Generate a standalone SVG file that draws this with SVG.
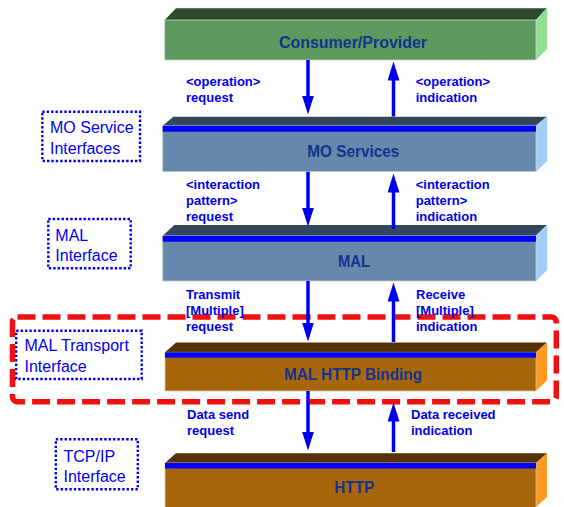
<svg xmlns="http://www.w3.org/2000/svg" width="564" height="507" viewBox="0 0 564 507">
<style>
.title{font-family:"Liberation Sans",Arial,sans-serif;font-weight:bold;font-size:16px;fill:#13338f;text-anchor:middle}
.lbl{font-family:"Liberation Sans",Arial,sans-serif;font-weight:bold;font-size:13px;fill:#0000f0}
.ifc{font-family:"Liberation Sans",Arial,sans-serif;font-size:16px;fill:#0000ee}
.ifbox{fill:none;stroke:#0000ee;stroke-width:2.4;stroke-dasharray:2.4 2}
.arrow{stroke:#0000f0;stroke-width:3.5;fill:none;marker-end:url(#ah)}
.stripe{fill:#0000ff}
.gfront{fill:#5c995c;stroke:#cfd8cf;stroke-width:0.8}
.gtop{fill:#2d4a2d}
.gside{fill:#8ee08e;stroke:#b8d8b8;stroke-width:0.6}
.bfront{fill:#6688aa;stroke:#c8d0d8;stroke-width:0.8}
.btop{fill:#33475a}
.bside{fill:#a0ccf8;stroke:#c0d8f0;stroke-width:0.6}
.ofront{fill:#a8660a;stroke:#d8c8b0;stroke-width:0.8}
.otop{fill:#553005}
.oside{fill:#ff9a1f}
</style>
<defs>
<marker id="ah" markerUnits="userSpaceOnUse" markerWidth="19" markerHeight="12" viewBox="0 0 19 12" refX="0.5" refY="6" orient="auto">
<path d="M0,0 L19,6 L0,12 z" fill="#0000f0"/>
</marker>
</defs>
<rect width="564" height="507" fill="#ffffff"/>

<g id="consumer-provider">
<polygon class="gtop" points="164.7,20 176,8.3 547,8.3 536,20"/>
<polygon class="gside" points="536,20 547,8.3 547,48.5 536,60"/>
<rect class="gfront" x="164.7" y="20" width="371.3" height="40"/>
<text class="title" x="353" y="47.5" textLength="148" lengthAdjust="spacingAndGlyphs">Consumer/Provider</text>
</g>

<g id="mo-services">
<polygon class="btop" points="162.7,125.7 173.3,116.7 547,116.7 536,125.7"/>
<polygon class="bside" points="536,125.7 547,116.7 547,161 536,171.7"/>
<rect class="bfront" x="162.7" y="125.7" width="373.3" height="46"/>
<rect class="stripe" x="162.7" y="125.7" width="373.3" height="6"/>
<text class="title" x="353.3" y="157.3" textLength="92" lengthAdjust="spacingAndGlyphs">MO Services</text>
</g>

<g id="mal">
<polygon class="btop" points="162.7,235.7 174.3,225 547,225 536,235.7"/>
<polygon class="bside" points="536,235.7 547,225 547,270 536,281"/>
<rect class="bfront" x="162.7" y="235.7" width="373.3" height="45.3"/>
<rect class="stripe" x="162.7" y="235.7" width="373.3" height="6"/>
<text class="title" x="354" y="267.3" textLength="32" lengthAdjust="spacingAndGlyphs">MAL</text>
</g>

<g id="mal-http-binding">
<polygon class="otop" points="165,352.3 176,342.5 547,342.5 536,352.3"/>
<polygon class="oside" points="536,352.3 547,342.5 547,380.5 536,391"/>
<rect class="ofront" x="165" y="352.3" width="371" height="38.7"/>
<rect class="stripe" x="165" y="352.3" width="371" height="5.4"/>
<text class="title" x="353" y="380" textLength="138" lengthAdjust="spacingAndGlyphs">MAL HTTP Binding</text>
</g>

<g id="http">
<polygon class="otop" points="165,463 176,453.3 547,453.3 536,463"/>
<polygon class="oside" points="536,463 547,453.3 547,497 536,507"/>
<rect class="ofront" x="165" y="463" width="371" height="50"/>
<rect class="stripe" x="165" y="463" width="371" height="5.5"/>
<text class="title" x="354.3" y="493.3" textLength="40" lengthAdjust="spacingAndGlyphs">HTTP</text>
</g>

<g id="mo-service-interfaces">
<rect class="ifbox" x="42.3" y="111.7" width="97.7" height="49.3"/>
<text class="ifc" x="50" y="133.4">MO Service</text>
<text class="ifc" x="50" y="154">Interfaces</text>
</g>

<g id="mal-interface">
<rect class="ifbox" x="48.3" y="219" width="82.4" height="49.3"/>
<text class="ifc" x="55.3" y="240.7">MAL</text>
<text class="ifc" x="55.3" y="261.4">Interface</text>
</g>

<g id="mal-transport-interface">
<rect class="ifbox" x="16.2" y="330.7" width="125.5" height="48.3"/>
<text class="ifc" x="24.5" y="351.4">MAL Transport</text>
<text class="ifc" x="24.5" y="371.7">Interface</text>
</g>

<g id="tcpip-interface">
<rect class="ifbox" x="55.8" y="439.3" width="82" height="50"/>
<text class="ifc" x="63.5" y="462.4">TCP/IP</text>
<text class="ifc" x="63.5" y="482.4">Interface</text>
</g>

<g id="transport-frame">
<rect x="12.5" y="317" width="543.8" height="84.7" rx="5" fill="none" stroke="#f01010" stroke-width="5.5" stroke-dasharray="18 7"/>
</g>

<g id="connectors">
<line class="arrow" x1="308" y1="60" x2="308" y2="96"/>
<line class="arrow" x1="393.5" y1="116.5" x2="393.5" y2="80"/>
<line class="arrow" x1="308" y1="171.7" x2="308" y2="208"/>
<line class="arrow" x1="393.5" y1="229" x2="393.5" y2="192"/>
<line class="arrow" x1="308" y1="281" x2="308" y2="323"/>
<line class="arrow" x1="393.5" y1="342" x2="393.5" y2="301"/>
<line class="arrow" x1="308" y1="391" x2="308" y2="432"/>
<line class="arrow" x1="393.5" y1="452" x2="393.5" y2="421"/>

<text class="lbl" x="186" y="86">&lt;operation&gt;</text>
<text class="lbl" x="186" y="102">request</text>
<text class="lbl" x="415.7" y="86">&lt;operation&gt;</text>
<text class="lbl" x="415.7" y="102">indication</text>

<text class="lbl" x="186" y="188.5">&lt;interaction</text>
<text class="lbl" x="186" y="204.5">pattern&gt;</text>
<text class="lbl" x="186" y="220.5">request</text>
<text class="lbl" x="415.7" y="188.5">&lt;interaction</text>
<text class="lbl" x="415.7" y="204.5">pattern&gt;</text>
<text class="lbl" x="415.7" y="220.5">indication</text>

<text class="lbl" x="186" y="298.5">Transmit</text>
<text class="lbl" x="186" y="314.5">[Multiple]</text>
<text class="lbl" x="186" y="330.5">request</text>
<text class="lbl" x="416" y="298.5">Receive</text>
<text class="lbl" x="416" y="314.5">[Multiple]</text>
<text class="lbl" x="416" y="330.5">indication</text>

<text class="lbl" x="187" y="418.5">Data send</text>
<text class="lbl" x="187" y="434.5">request</text>
<text class="lbl" x="411" y="418.5">Data received</text>
<text class="lbl" x="411" y="434.5">indication</text>
</g>
</svg>
